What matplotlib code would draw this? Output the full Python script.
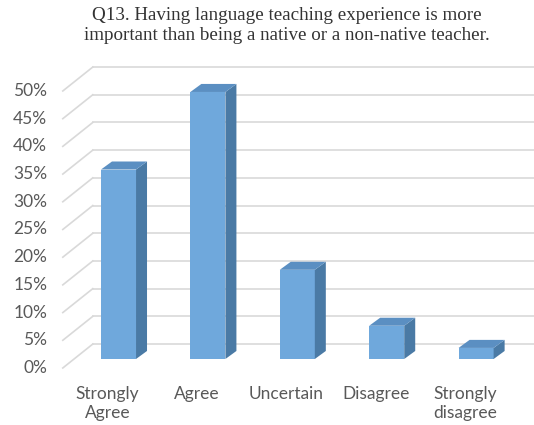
import matplotlib
matplotlib.use("Agg")
import matplotlib.pyplot as plt
from matplotlib.patches import Polygon

# data
categories = ["Strongly\nAgree", "Agree", "Uncertain", "Disagree", "Strongly\ndisagree"]
values = [34.2, 48.2, 16.1, 6.0, 2.0]
yticks = list(range(0, 55, 5))
title = ("Q13. Having language teaching experience is more\n"
         "important than being a native or a non-native teacher.")

# colours
FRONT = "#6FA8DC"
SIDE = "#4A7AA5"
TOP = "#5B8FC2"
GRID = "#D9D9D9"
TXT = "#595959"

# fake 3d geometry (data units of the bar front plane)
W = 0.196            # half bar width
BDX, BDY = 0.123, 1.45   # bar depth
WDX, WDY = 0.2125, 2.7   # back wall offset
FDX, FDY = -0.123, -1.62  # front plane offset
LEFT = -0.5

fig = plt.figure(figsize=(5.34, 4.25), dpi=100)
ax = fig.add_axes([0, 0, 1, 1])
# map pixels so that bars sit where they do in the original
X0, SX, Y0, SY = 118.5, 89.4, 66.0, 5.54
ax.set_xlim(-X0 / SX, (534 - X0) / SX)
ax.set_ylim(-Y0 / SY, (425 - Y0) / SY)
ax.axis("off")

# back wall gridlines + diagonals on the left side wall
xmax = ax.get_xlim()[1]
for t in yticks:
    ax.plot([LEFT + WDX, xmax], [t + WDY, t + WDY], color=GRID, lw=1.2, zorder=1)
    ax.plot([LEFT + FDX, LEFT + WDX], [t + FDY, t + WDY], color=GRID, lw=1.2, zorder=1)
    ax.text(LEFT + FDX - 0.175, t + FDY, f"{t}%", ha="right", va="center",
            fontsize=12.5, color=TXT, family="Lato")

# bars
xs = list(range(len(values)))
ax.bar(xs, values, width=2 * W, color=FRONT, zorder=3)
for x, v in zip(xs, values):
    side = [(x + W, 0), (x + W + BDX, BDY), (x + W + BDX, v + BDY), (x + W, v)]
    top = [(x - W, v), (x + W, v), (x + W + BDX, v + BDY), (x - W + BDX, v + BDY)]
    ax.add_patch(Polygon(side, closed=True, facecolor=SIDE, edgecolor="none", zorder=3))
    ax.add_patch(Polygon(top, closed=True, facecolor=TOP, edgecolor="none", zorder=3))

for x, lab in zip(xs, categories):
    ax.text(x + FDX, -4.8, lab, ha="center", va="top", fontsize=12.5,
            color=TXT, family="Lato", linespacing=1.3)

fig.text(287 / 534, 1 - 7 / 425, title, ha="center", va="top",
         family="Liberation Serif", fontsize=13.7, color="#333333", linespacing=1.2)

fig.savefig("out.png", dpi=100)
